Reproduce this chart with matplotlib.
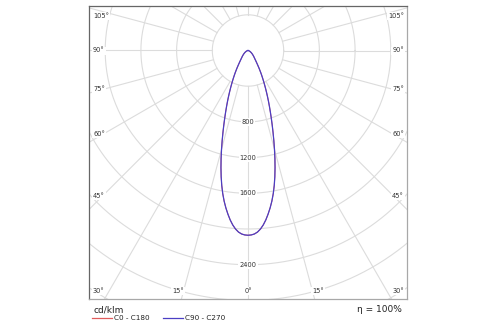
import numpy as np
import matplotlib
matplotlib.use("Agg")
import matplotlib.pyplot as plt
from matplotlib.lines import Line2D

# luminous intensity distribution, cd/klm, gamma angle from nadir
gamma = list(range(0, 31)) + [32, 34, 36, 38, 40, 42, 45, 50, 55, 60, 65, 70, 75, 80, 85, 90]
c0_c180 = [2070, 2067, 2057, 2037, 2005, 1962, 1909, 1847, 1781, 1709,
           1629, 1541, 1446, 1347, 1246, 1146, 1050, 960, 877, 801,
           732, 669, 611, 557, 507, 461, 419, 381, 346, 314,
           285, 233, 190, 158, 134, 116, 103, 87, 65, 48, 34, 23, 15, 9, 5, 2, 0]
c90_c270 = [2070, 2067, 2057, 2037, 2005, 1962, 1909, 1847, 1781, 1709,
            1629, 1541, 1446, 1347, 1246, 1146, 1050, 960, 877, 801,
            732, 669, 611, 557, 507, 461, 419, 381, 346, 314,
            285, 233, 190, 158, 134, 116, 103, 87, 65, 48, 34, 23, 15, 9, 5, 2, 0]

rings = [400, 800, 1200, 1600, 2000, 2400, 2800, 3200, 3600]
ring_labels = [800, 1200, 1600, 2400]
side_angles = [105, 90, 75, 60, 45, 30]
bottom_angles = [-15, 0, 15]
efficiency = "η = 100%"

GRID = "#dcdcdc"
RED = "#e05c5c"
BLUE = "#4b3fc4"

W, H = 500, 325
px = 400 / 35.7          # cd/klm per pixel
x0, x1, y0, y1, cy = 89, 407, 6, 299, 50.5
cx = (x0 + x1) / 2

fig = plt.figure(figsize=(5, 3.25), dpi=100)
ax = fig.add_axes([x0 / W, 1 - y1 / H, (x1 - x0) / W, (y1 - y0) / H])
half_w = (cx - x0) * px
top = (cy - y0) * px
bottom = -(y1 - cy) * px
ax.set_xlim(-half_w, half_w)
ax.set_ylim(bottom, top)
ax.set_xticks([])
ax.set_yticks([])
for side, col in [("left", "#666666"), ("top", "#666666"),
                  ("right", "#a8a8a8"), ("bottom", "#a8a8a8")]:
    ax.spines[side].set_color(col)
    ax.spines[side].set_linewidth(0.9)

# polar grid: rings every 400, spokes every 15 deg starting at the first ring
t = np.linspace(0, 2 * np.pi, 400)
for r in rings:
    ax.plot(r * np.cos(t), r * np.sin(t), color=GRID, lw=0.8, zorder=1)
for a in np.deg2rad(np.arange(0, 360, 15)):
    ax.plot([rings[0] * np.sin(a), 6000 * np.sin(a)],
            [-rings[0] * np.cos(a), -6000 * np.cos(a)], color=GRID, lw=0.8, zorder=1)

box = dict(boxstyle="square,pad=0.15", fc="white", ec="none")
for r in ring_labels:
    ax.text(0, -r, str(r), ha="center", va="center", fontsize=4.8,
            color="#333333", bbox=box, zorder=2)

# angle labels along the frame
for ang in side_angles:
    y = -(half_w - 14 * px) / np.tan(np.deg2rad(ang)) if ang != 90 else 0
    y = min(max(y, bottom + 8 * px), top - 10 * px)
    ax.text(-half_w + 4 * px, y, f"{ang}°", ha="left", va="center",
            fontsize=4.8, color="#333333", bbox=box, zorder=2)
    ax.text(half_w - 3 * px, y, f"{ang}°", ha="right", va="center",
            fontsize=4.8, color="#333333", bbox=box, zorder=2)
yb = bottom + 8 * px
for ang in bottom_angles:
    x = -yb * np.tan(np.deg2rad(ang))
    ha = "center" if ang == 0 else ("right" if ang < 0 else "left")
    ax.text(x, yb, f"{abs(ang)}°", ha=ha, va="center", fontsize=4.8,
            color="#333333", bbox=box, zorder=2)


def curve(values):
    g = np.deg2rad(np.concatenate([-np.array(gamma[::-1]), gamma[1:]]))
    i = np.concatenate([values[::-1], values[1:]])
    return i * np.sin(g), -i * np.cos(g)


ax.plot(*curve(c0_c180), color=RED, lw=0.7, zorder=3)
ax.plot(*curve(c90_c270), color=BLUE, lw=0.9, zorder=4)

# legend strip under the diagram
fig.text(93 / W, 1 - 310 / H, "cd/klm", ha="left", va="center",
         fontsize=6.5, color="#222222")
fig.text(402 / W, 1 - 309 / H, efficiency, ha="right", va="center",
         fontsize=6.5, color="#222222")
ly = 1 - 318 / H
fig.add_artist(Line2D([92 / W, 112 / W], [ly, ly], color=RED, lw=0.9))
fig.text(114 / W, ly, "C0 - C180", ha="left", va="center", fontsize=5.2, color="#222222")
fig.add_artist(Line2D([163 / W, 183 / W], [ly, ly], color=BLUE, lw=0.9))
fig.text(185 / W, ly, "C90 - C270", ha="left", va="center", fontsize=5.2, color="#222222")

fig.savefig("out.png", dpi=100, facecolor="white")
